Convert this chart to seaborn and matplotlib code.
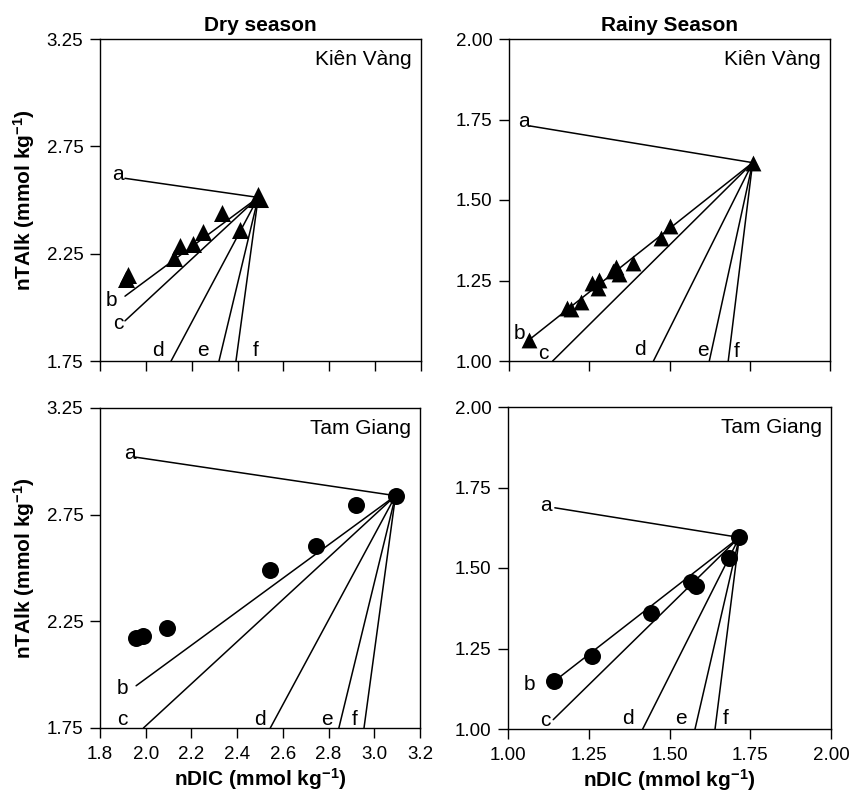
import matplotlib
matplotlib.use('Agg')
import numpy as np
import pandas as pd
import matplotlib.pyplot as plt
import seaborn as sns
from matplotlib.ticker import FormatStrFormatter, MultipleLocator

# ===============================
# data
# ===============================
line_names = ['a', 'b', 'c', 'd', 'e', 'f']

# Dry season - Kien Vang
kv_dry_x = [1.924, 1.913, 2.124, 2.149, 2.207, 2.248, 2.330, 2.410]
kv_dry_y = [2.150, 2.134, 2.228, 2.285, 2.293, 2.352, 2.438, 2.360]
kv_dry_end = (2.490, 2.512)
kv_dry_start_x = [1.909, 1.909, 1.909, 2.110, 2.319, 2.393]
kv_dry_start_y = [2.601, 2.052, 1.937, 1.750, 1.750, 1.750]

# Rainy season - Kien Vang
kv_rain_x = [1.063, 1.180, 1.193, 1.223, 1.258, 1.278, 1.281, 1.323, 1.333,
             1.343, 1.387, 1.472, 1.502]
kv_rain_y = [1.066, 1.165, 1.160, 1.184, 1.241, 1.228, 1.253, 1.280, 1.293,
             1.270, 1.303, 1.381, 1.419]
kv_rain_end = (1.759, 1.616)
kv_rain_start_x = [1.065, 1.063, 1.136, 1.450, 1.624, 1.683]
kv_rain_start_y = [1.730, 1.066, 1.000, 1.000, 1.000, 1.000]

# Dry season - Tam Giang
tg_dry_x = [1.958, 1.987, 2.095, 2.545, 2.747, 2.922]
tg_dry_y = [2.172, 2.180, 2.219, 2.492, 2.602, 2.794]
tg_dry_end = (3.093, 2.839)
tg_dry_start_x = [1.953, 1.958, 1.990, 2.545, 2.845, 2.955]
tg_dry_start_y = [3.020, 1.948, 1.750, 1.750, 1.750, 1.750]

# Rainy season - Tam Giang
tg_rain_x = [1.143, 1.261, 1.443, 1.566, 1.582, 1.683]
tg_rain_y = [1.148, 1.227, 1.360, 1.458, 1.444, 1.530]
tg_rain_end = (1.716, 1.595)
tg_rain_start_x = [1.145, 1.143, 1.140, 1.417, 1.579, 1.641]
tg_rain_start_y = [1.687, 1.148, 1.029, 1.000, 1.000, 1.000]

dry_yticks = [1.75, 2.25, 2.75, 3.25]

# label anchors (layout)
kv_dry_lab = [(1.880, 2.617), (1.851, 2.033), (1.880, 1.927),
              (2.054, 1.800), (2.248, 1.797), (2.480, 1.800)]
kv_rain_lab = [(1.045, 1.744), (1.034, 1.085), (1.107, 1.023),
               (1.408, 1.035), (1.605, 1.033), (1.709, 1.028)]
tg_dry_lab = [(1.929, 3.036), (1.899, 1.933), (1.899, 1.789),
              (2.499, 1.789), (2.791, 1.789), (2.914, 1.789)]
tg_rain_lab = [(1.119, 1.695), (1.065, 1.137), (1.117, 1.027),
               (1.372, 1.034), (1.535, 1.034), (1.675, 1.034)]

# ===============================
# style
# ===============================
sns.set_style('ticks')
plt.rcParams['font.family'] = ['Liberation Sans', 'DejaVu Sans']
plt.rcParams['mathtext.fontset'] = 'custom'
plt.rcParams['mathtext.rm'] = 'Liberation Sans'
plt.rcParams['mathtext.bf'] = 'Liberation Sans:bold'
plt.rcParams['axes.linewidth'] = 1.0
for key in ['text.color', 'axes.labelcolor', 'xtick.color', 'ytick.color',
            'axes.edgecolor']:
    plt.rcParams[key] = 'black'

fig = plt.figure(figsize=(8.51, 7.95), dpi=100)
W, H = 851.0, 795.0
ax1 = fig.add_axes([100 / W, 1 - 361 / H, 321 / W, 322 / H])
ax2 = fig.add_axes([509 / W, 1 - 361 / H, 321 / W, 322 / H])
ax3 = fig.add_axes([100 / W, 1 - 728 / H, 320 / W, 320 / H])
ax4 = fig.add_axes([508 / W, 1 - 729 / H, 323 / W, 322 / H])


def draw_panel(ax, px, py, end, sx, sy, labs, marker, station, ms, ms_end):
    # process lines from the end member
    rows = []
    for name, x0, y0 in zip(line_names, sx, sy):
        rows.append({'seg': name, 'x': x0, 'y': y0})
        rows.append({'seg': name, 'x': end[0], 'y': end[1]})
    seg_df = pd.DataFrame(rows)
    sns.lineplot(data=seg_df, x='x', y='y', units='seg', estimator=None,
                 color='black', lw=1.1, ax=ax, legend=False)

    pts = pd.DataFrame({'x': px, 'y': py})
    sns.scatterplot(data=pts, x='x', y='y', marker=marker, s=ms,
                    color='black', linewidth=0, ax=ax, legend=False, zorder=3)
    ax.scatter([end[0]], [end[1]], marker=marker, s=ms_end, color='black',
               linewidths=0, zorder=3)

    for name, (lx, ly) in zip(line_names, labs):
        ax.text(lx, ly, name, ha='center', va='center', fontsize=15)

    ax.text(0.972, 0.965, station, transform=ax.transAxes,
            ha='right', va='top', fontsize=15)
    ax.set_xlabel('')
    ax.set_ylabel('')
    ax.tick_params(direction='out', length=7, width=1, labelsize=13.5,
                   top=False, right=False, colors='black')
    ax.tick_params(axis='x', pad=6)
    ax.tick_params(axis='y', pad=5)
    for sp in ax.spines.values():
        sp.set_visible(True)
        sp.set_linewidth(1.0)
        sp.set_color('black')


draw_panel(ax1, kv_dry_x, kv_dry_y, kv_dry_end, kv_dry_start_x,
           kv_dry_start_y, kv_dry_lab, '^', 'Kiên Vàng', 150, 230)
draw_panel(ax2, kv_rain_x, kv_rain_y, kv_rain_end, kv_rain_start_x,
           kv_rain_start_y, kv_rain_lab, '^', 'Kiên Vàng', 130, 130)
draw_panel(ax3, tg_dry_x, tg_dry_y, tg_dry_end, tg_dry_start_x,
           tg_dry_start_y, tg_dry_lab, 'o', 'Tam Giang', 150, 150)
draw_panel(ax4, tg_rain_x, tg_rain_y, tg_rain_end, tg_rain_start_x,
           tg_rain_start_y, tg_rain_lab, 'o', 'Tam Giang', 150, 150)

for ax in (ax1, ax3):
    ax.set_xlim(1.8, 3.2)
    ax.set_ylim(1.75, 3.25)
    ax.xaxis.set_major_locator(MultipleLocator(0.2))
    ax.set_yticks(dry_yticks)
    ax.xaxis.set_major_formatter(FormatStrFormatter('%.1f'))
    ax.yaxis.set_major_formatter(FormatStrFormatter('%.2f'))
    ax.set_ylabel(r'nTAlk (mmol kg$\mathbf{^{-1}}$)', fontsize=15,
                  fontweight='bold', labelpad=7)

for ax in (ax2, ax4):
    ax.set_xlim(1.0, 2.0)
    ax.set_ylim(1.0, 2.0)
    ax.xaxis.set_major_locator(MultipleLocator(0.25))
    ax.yaxis.set_major_locator(MultipleLocator(0.25))
    ax.xaxis.set_major_formatter(FormatStrFormatter('%.2f'))
    ax.yaxis.set_major_formatter(FormatStrFormatter('%.2f'))

for ax in (ax1, ax2):
    ax.tick_params(labelbottom=False)

for ax in (ax3, ax4):
    ax.set_xlabel(r'nDIC (mmol kg$\mathbf{^{-1}}$)', fontsize=15,
                  fontweight='bold', labelpad=2)

ax1.set_title('Dry season', fontsize=15, fontweight='bold', pad=6)
ax2.set_title('Rainy Season', fontsize=15, fontweight='bold', pad=6)

fig.savefig('out.png', dpi=100)
